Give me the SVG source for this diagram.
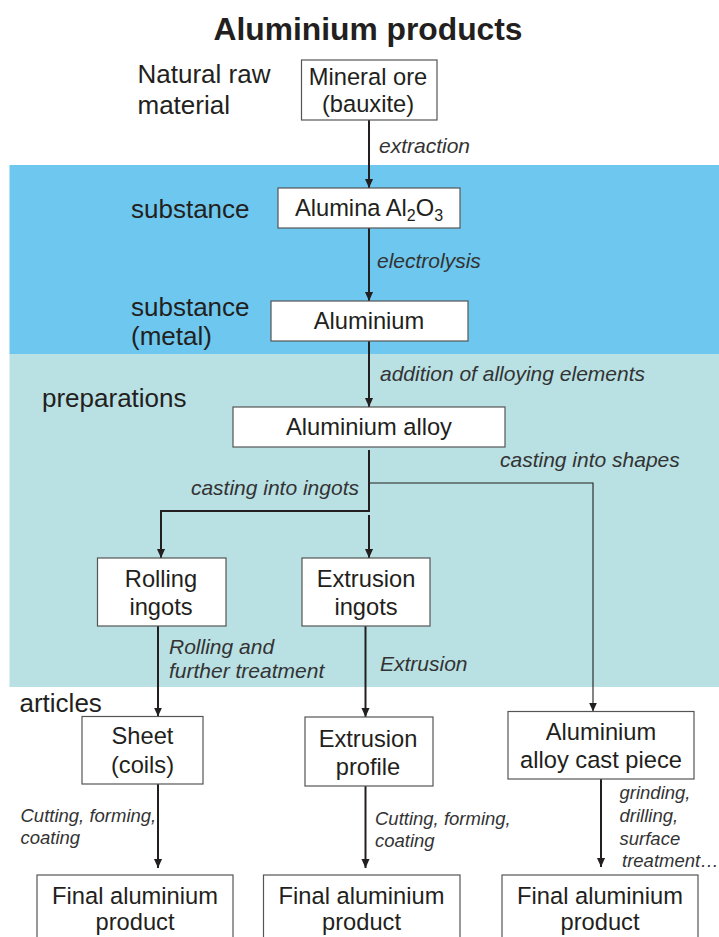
<svg xmlns="http://www.w3.org/2000/svg" width="719" height="937" viewBox="0 0 719 937">
<defs>
<marker id="arr" viewBox="0 0 10 10" refX="10" refY="5" markerWidth="9" markerHeight="9" markerUnits="userSpaceOnUse" orient="auto">
<path d="M0,0.5 L10,5 L0,9.5 z" fill="#231f20"/>
</marker>
<style>
.box{fill:#fff;stroke:#555;stroke-width:1.2}
.nt{font-family:"Liberation Sans",Arial,sans-serif;font-size:23.7px;fill:#231f20;text-anchor:middle}
.cat{font-family:"Liberation Sans",Arial,sans-serif;font-size:26px;fill:#231f20}
.lab{font-family:"Liberation Sans",Arial,sans-serif;font-size:21px;font-style:italic;fill:#333}
.lab2{font-family:"Liberation Sans",Arial,sans-serif;font-size:18.5px;font-style:italic;fill:#333}
.c{fill:none;stroke:#231f20;stroke-width:2}
.thin{fill:none;stroke:#231f20;stroke-width:1.1}
</style>
</defs>
<rect width="719" height="937" fill="#fff"/>
<rect x="9.5" y="165" width="709.5" height="189" fill="#6dc7ee"/>
<rect x="9.5" y="354" width="709.5" height="333" fill="#b9e0e3"/>

<text x="368" y="40" text-anchor="middle" font-family="'Liberation Sans',Arial,sans-serif" font-size="31.8" font-weight="bold" fill="#231f20">Aluminium products</text>

<g id="categories">
<text class="cat" x="137.5" y="83">Natural raw</text>
<text class="cat" x="137.5" y="114">material</text>
<text class="cat" x="131" y="218">substance</text>
<text class="cat" x="131" y="316">substance</text>
<text class="cat" x="131" y="345">(metal)</text>
<text class="cat" x="42" y="407">preparations</text>
<text class="cat" x="19.5" y="712">articles</text>
</g>

<g id="connectors">
<path class="c" d="M369 120 V188" marker-end="url(#arr)"/>
<path class="c" d="M369 228 V301" marker-end="url(#arr)"/>
<path class="c" d="M369 341 V407" marker-end="url(#arr)"/>
<path class="c" d="M369 450 V511 H161 V558" marker-end="url(#arr)"/>
<path class="c" d="M369 515 V558" marker-end="url(#arr)"/>
<path class="thin" d="M369 483 H593 V711.5" marker-end="url(#arr)"/>
<path class="c" d="M158 626 V716.5" marker-end="url(#arr)"/>
<path class="c" d="M365.5 626 V717" marker-end="url(#arr)"/>
<path class="c" d="M158 784 V868" marker-end="url(#arr)"/>
<path class="c" d="M365.5 786 V868" marker-end="url(#arr)"/>
<path class="c" d="M601 779 V867" marker-end="url(#arr)"/>
<text class="lab" x="379" y="153">extraction</text>
<text class="lab" x="377" y="268">electrolysis</text>
<text class="lab" x="380" y="381">addition of alloying elements</text>
<text class="lab" x="359" y="495" text-anchor="end">casting into ingots</text>
<text class="lab" x="500" y="467">casting into shapes</text>
<text class="lab" x="169" y="654">Rolling and</text>
<text class="lab" x="169" y="678">further treatment</text>
<text class="lab" x="380" y="671">Extrusion</text>
<text class="lab2" x="20.5" y="822">Cutting, forming,</text>
<text class="lab2" x="20.5" y="844">coating</text>
<text class="lab2" x="375" y="825">Cutting, forming,</text>
<text class="lab2" x="375" y="847">coating</text>
<text class="lab2" x="619.5" y="799">grinding,</text>
<text class="lab2" x="619.5" y="822">drilling,</text>
<text class="lab2" x="619.5" y="845">surface</text>
<text class="lab2" x="622" y="867">treatment…</text>
</g>

<g id="ore">
<rect class="box" x="301.5" y="60" width="135.5" height="60"/>
<text class="nt" x="368" y="85">Mineral ore</text>
<text class="nt" x="368" y="112">(bauxite)</text>
</g>
<g id="alumina">
<rect class="box" x="278" y="188" width="182" height="40"/>
<text class="nt" x="369" y="216">Alumina Al<tspan font-size="16" dy="5">2</tspan><tspan dy="-5">O</tspan><tspan font-size="16" dy="5">3</tspan></text>
</g>
<g id="aluminium">
<rect class="box" x="271" y="301" width="197" height="40"/>
<text class="nt" x="369" y="329">Aluminium</text>
</g>
<g id="alloy">
<rect class="box" x="233" y="407" width="272" height="40"/>
<text class="nt" x="369" y="435">Aluminium alloy</text>
</g>
<g id="rolling-ingots">
<rect class="box" x="97.5" y="558" width="128.5" height="68"/>
<text class="nt" x="161" y="587">Rolling</text>
<text class="nt" x="161" y="615">ingots</text>
</g>
<g id="extrusion-ingots">
<rect class="box" x="302" y="558" width="128" height="68"/>
<text class="nt" x="366" y="587">Extrusion</text>
<text class="nt" x="366" y="615">ingots</text>
</g>
<g id="sheet">
<rect class="box" x="82" y="716.5" width="121" height="67.5"/>
<text class="nt" x="142.5" y="744">Sheet</text>
<text class="nt" x="142.5" y="773">(coils)</text>
</g>
<g id="extrusion-profile">
<rect class="box" x="305" y="717" width="128" height="69"/>
<text class="nt" x="368" y="747">Extrusion</text>
<text class="nt" x="368" y="775">profile</text>
</g>
<g id="cast-piece">
<rect class="box" x="508" y="711.5" width="186" height="67.5"/>
<text class="nt" x="601" y="740">Aluminium</text>
<text class="nt" x="601" y="768">alloy cast piece</text>
</g>
<g id="final-1">
<rect class="box" x="37" y="875" width="196" height="80"/>
<text class="nt" x="135" y="904">Final aluminium</text>
<text class="nt" x="135" y="930">product</text>
</g>
<g id="final-2">
<rect class="box" x="263.5" y="875" width="196.5" height="80"/>
<text class="nt" x="361.5" y="904">Final aluminium</text>
<text class="nt" x="361.5" y="930">product</text>
</g>
<g id="final-3">
<rect class="box" x="502" y="875" width="196" height="80"/>
<text class="nt" x="600" y="904">Final aluminium</text>
<text class="nt" x="600" y="930">product</text>
</g>
</svg>
